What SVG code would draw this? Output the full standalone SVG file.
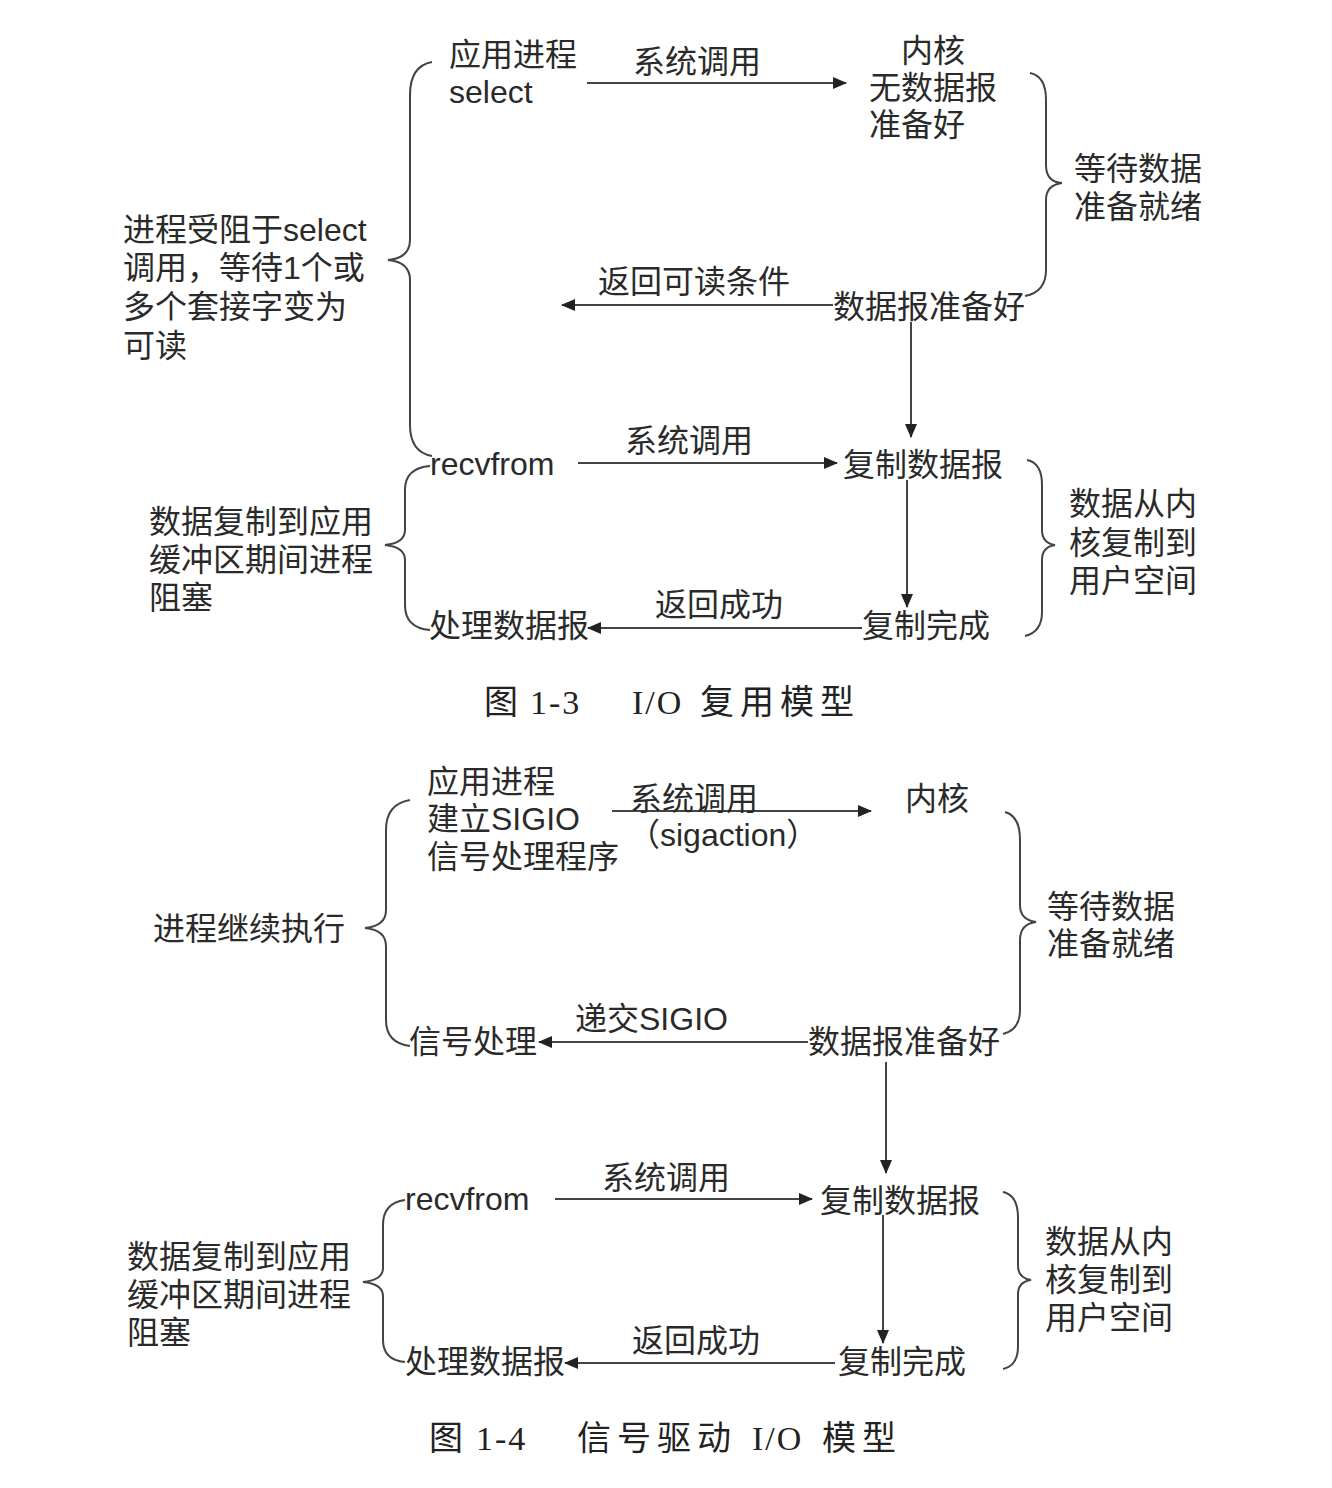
<svg xmlns="http://www.w3.org/2000/svg" width="1332" height="1488" viewBox="0 0 1332 1488">
<defs>
<style>
.t{font-family:"Liberation Sans","Noto Sans CJK SC",sans-serif;font-size:32px;fill:#2a2a2a}
.c{font-family:"Liberation Serif","Noto Sans CJK SC",serif;font-size:34px;fill:#222}
.ln{stroke:#444;stroke-width:2;fill:none}
.br{stroke:#444;stroke-width:2;fill:none}
</style>
<marker id="ah" markerWidth="14" markerHeight="12" refX="13" refY="6" orient="auto" markerUnits="userSpaceOnUse">
<path d="M0,0 L14,6 L0,12 Z" fill="#222"/>
</marker>
</defs>
<rect width="1332" height="1488" fill="#fff"/>

<g id="connectors">
<line class="ln" x1="587" y1="83" x2="846" y2="83" marker-end="url(#ah)"/>
<line class="ln" x1="833" y1="305" x2="562" y2="305" marker-end="url(#ah)"/>
<line class="ln" x1="911" y1="322" x2="911" y2="437" marker-end="url(#ah)"/>
<line class="ln" x1="578" y1="463" x2="837" y2="463" marker-end="url(#ah)"/>
<line class="ln" x1="907" y1="480" x2="907" y2="607" marker-end="url(#ah)"/>
<line class="ln" x1="862" y1="628" x2="588" y2="628" marker-end="url(#ah)"/>
<line class="ln" x1="612" y1="811" x2="871" y2="811" marker-end="url(#ah)"/>
<line class="ln" x1="808" y1="1042" x2="539" y2="1042" marker-end="url(#ah)"/>
<line class="ln" x1="886" y1="1062" x2="886" y2="1173" marker-end="url(#ah)"/>
<line class="ln" x1="555" y1="1199" x2="812" y2="1199" marker-end="url(#ah)"/>
<line class="ln" x1="883" y1="1215" x2="883" y2="1343" marker-end="url(#ah)"/>
<line class="ln" x1="835" y1="1363" x2="565" y2="1363" marker-end="url(#ah)"/>
</g>

<g id="braces">
<path class="br" d="M432,62 Q410,66 410,95 L410,240 Q410,258 388,260 Q410,262 410,280 L410,425 Q410,452 432,456"/>
<path class="br" d="M1030,73 Q1046,76 1046,100 L1046,165 Q1046,182 1062,183 Q1046,185 1046,200 L1046,270 Q1046,292 1025,296"/>
<path class="br" d="M430,466 Q405,468 405,490 L405,530 Q405,543 385,545 Q405,547 405,560 L405,605 Q405,628 430,630"/>
<path class="br" d="M1027,460 Q1042,463 1042,485 L1042,530 Q1042,543 1055,545 Q1042,547 1042,560 L1042,612 Q1042,632 1025,636"/>
<path class="br" d="M410,800 Q386,804 386,830 L386,910 Q386,926 365,928 Q386,930 386,946 L386,1020 Q386,1043 410,1046"/>
<path class="br" d="M1005,812 Q1020,816 1020,840 L1020,905 Q1020,920 1036,922 Q1020,924 1020,940 L1020,1010 Q1020,1030 1003,1034"/>
<path class="br" d="M405,1200 Q383,1203 383,1225 L383,1268 Q383,1280 363,1282 Q383,1284 383,1296 L383,1340 Q383,1360 405,1362"/>
<path class="br" d="M1003,1192 Q1018,1195 1018,1218 L1018,1266 Q1018,1278 1031,1280 Q1018,1282 1018,1294 L1018,1346 Q1018,1366 1003,1369"/>
</g>

<g id="n-app-select">
<text class="t" x="449" y="66">应用进程</text>
<text class="t" x="449" y="103">select</text>
</g>
<g id="l-syscall1"><text class="t" x="633" y="73">系统调用</text></g>
<g id="n-kernel1">
<text class="t" x="901" y="62">内核</text>
<text class="t" x="869" y="99">无数据报</text>
<text class="t" x="869" y="136">准备好</text>
</g>
<g id="n-wait1">
<text class="t" x="1074" y="180">等待数据</text>
<text class="t" x="1074" y="218">准备就绪</text>
</g>
<g id="n-blocked-select">
<text class="t" x="123" y="241">进程受阻于select</text>
<text class="t" x="123" y="279">调用，等待1个或</text>
<text class="t" x="123" y="318">多个套接字变为</text>
<text class="t" x="123" y="357">可读</text>
</g>
<g id="l-readable"><text class="t" x="598" y="293">返回可读条件</text></g>
<g id="n-ready1"><text class="t" x="833" y="318">数据报准备好</text></g>
<g id="n-recvfrom1"><text class="t" x="430" y="475">recvfrom</text></g>
<g id="l-syscall2"><text class="t" x="625" y="452">系统调用</text></g>
<g id="n-copy1"><text class="t" x="843" y="476">复制数据报</text></g>
<g id="n-copydesc1">
<text class="t" x="1069" y="515">数据从内</text>
<text class="t" x="1069" y="554">核复制到</text>
<text class="t" x="1069" y="592">用户空间</text>
</g>
<g id="n-blocked1">
<text class="t" x="149" y="533">数据复制到应用</text>
<text class="t" x="149" y="571">缓冲区期间进程</text>
<text class="t" x="149" y="609">阻塞</text>
</g>
<g id="n-process1"><text class="t" x="429" y="637">处理数据报</text></g>
<g id="l-success1"><text class="t" x="655" y="616">返回成功</text></g>
<g id="n-done1"><text class="t" x="862" y="637">复制完成</text></g>
<g id="caption1">
<text class="c" x="484" y="714">图</text>
<text class="c" x="530" y="714" letter-spacing="2">1-3</text>
<text class="c" x="632" y="714" letter-spacing="2">I/O</text>
<text class="c" x="700" y="714" letter-spacing="6">复用模型</text>
</g>

<g id="n-app-sigio">
<text class="t" x="427" y="793">应用进程</text>
<text class="t" x="427" y="830">建立SIGIO</text>
<text class="t" x="427" y="868">信号处理程序</text>
</g>
<g id="l-syscall3">
<text class="t" x="630" y="810">系统调用</text>
<text class="t" x="628" y="846">（sigaction）</text>
</g>
<g id="n-kernel2"><text class="t" x="905" y="810">内核</text></g>
<g id="n-wait2">
<text class="t" x="1047" y="918">等待数据</text>
<text class="t" x="1047" y="955">准备就绪</text>
</g>
<g id="n-continue"><text class="t" x="153" y="940">进程继续执行</text></g>
<g id="l-sigio"><text class="t" x="575" y="1030">递交SIGIO</text></g>
<g id="n-sighandle"><text class="t" x="409" y="1053">信号处理</text></g>
<g id="n-ready2"><text class="t" x="808" y="1053">数据报准备好</text></g>
<g id="n-recvfrom2"><text class="t" x="405" y="1210">recvfrom</text></g>
<g id="l-syscall4"><text class="t" x="602" y="1189">系统调用</text></g>
<g id="n-copy2"><text class="t" x="820" y="1212">复制数据报</text></g>
<g id="n-copydesc2">
<text class="t" x="1045" y="1253">数据从内</text>
<text class="t" x="1045" y="1291">核复制到</text>
<text class="t" x="1045" y="1329">用户空间</text>
</g>
<g id="n-blocked2">
<text class="t" x="127" y="1268">数据复制到应用</text>
<text class="t" x="127" y="1306">缓冲区期间进程</text>
<text class="t" x="127" y="1344">阻塞</text>
</g>
<g id="n-process2"><text class="t" x="405" y="1373">处理数据报</text></g>
<g id="l-success2"><text class="t" x="632" y="1352">返回成功</text></g>
<g id="n-done2"><text class="t" x="838" y="1373">复制完成</text></g>
<g id="caption2">
<text class="c" x="429" y="1450">图</text>
<text class="c" x="476" y="1450" letter-spacing="2">1-4</text>
<text class="c" x="577" y="1450" letter-spacing="6">信号驱动</text>
<text class="c" x="752" y="1450" letter-spacing="2">I/O</text>
<text class="c" x="822" y="1450" letter-spacing="6">模型</text>
</g>
</svg>
